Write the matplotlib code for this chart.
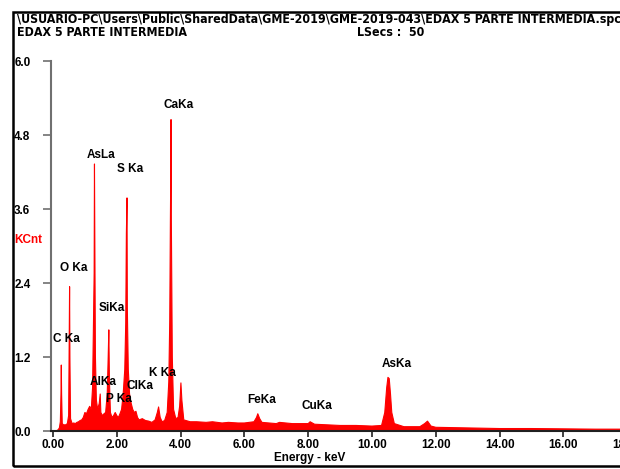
import matplotlib
matplotlib.use("Agg")
import matplotlib.pyplot as plt
from matplotlib.patches import Rectangle
from matplotlib import font_manager

# --- Data --------------------------------------------------------------------

energy = [0.10, 0.16, 0.20, 0.23, 0.25, 0.26, 0.27, 0.29, 0.33, 0.40, 0.45, 0.49,
          0.50, 0.52, 0.53, 0.55, 0.60, 0.65, 0.70, 0.75, 0.80, 0.85, 0.90, 0.95,
          1.00, 1.05, 1.10, 1.15, 1.20, 1.24, 1.27, 1.29, 1.30, 1.31, 1.33, 1.36,
          1.40, 1.45, 1.48, 1.50, 1.55, 1.60, 1.65, 1.70, 1.73, 1.75, 1.77, 1.80,
          1.85, 1.90, 1.95, 2.00, 2.05, 2.10, 2.15, 2.20, 2.25, 2.28, 2.30, 2.32,
          2.33, 2.36, 2.40, 2.45, 2.50, 2.55, 2.60, 2.65, 2.70, 2.80, 2.90, 3.00,
          3.10, 3.20, 3.27, 3.31, 3.36, 3.42, 3.50, 3.58, 3.63, 3.66, 3.68, 3.69,
          3.70, 3.71, 3.74, 3.78, 3.85, 3.92, 3.97, 4.01, 4.04, 4.10, 4.30, 4.50,
          4.80, 5.00, 5.30, 5.50, 5.80, 6.00, 6.30, 6.38, 6.42, 6.48, 6.55, 7.00,
          7.10, 7.50, 8.00, 8.06, 8.20, 8.60, 9.00, 9.50, 10.00, 10.30, 10.40, 10.46,
          10.50, 10.54, 10.58, 10.62, 10.70, 11.00, 11.50, 11.65, 11.74, 11.85, 12.00, 13.00,
          14.00, 15.00, 16.00, 17.00, 18.00, 19.00, 20.00]
counts = [0.00, 0.02, 0.05, 0.15, 0.60, 1.07, 0.60, 0.12, 0.10, 0.10, 0.12, 0.25,
          0.90, 2.34, 1.20, 0.20, 0.12, 0.13, 0.12, 0.14, 0.15, 0.17, 0.18, 0.22,
          0.30, 0.28, 0.35, 0.40, 0.35, 0.70, 1.80, 2.56, 4.33, 3.23, 1.20, 0.50,
          0.35, 0.45, 0.60, 0.30, 0.25, 0.28, 0.30, 0.60, 1.20, 1.64, 0.80, 0.30,
          0.22, 0.25, 0.30, 0.25, 0.22, 0.28, 0.35, 0.60, 1.00, 1.75, 3.20, 3.78,
          2.00, 1.00, 0.60, 0.45, 0.35, 0.30, 0.32, 0.22, 0.18, 0.20, 0.17, 0.16,
          0.14, 0.18, 0.30, 0.39, 0.22, 0.15, 0.17, 0.30, 0.80, 1.80, 3.42, 4.08,
          5.05, 3.40, 1.20, 0.35, 0.20, 0.22, 0.40, 0.78, 0.50, 0.18, 0.15, 0.15,
          0.14, 0.15, 0.13, 0.14, 0.13, 0.13, 0.15, 0.22, 0.28, 0.20, 0.14, 0.12,
          0.14, 0.12, 0.12, 0.15, 0.11, 0.10, 0.09, 0.09, 0.08, 0.09, 0.30, 0.70,
          0.87, 0.85, 0.60, 0.30, 0.12, 0.07, 0.07, 0.12, 0.16, 0.08, 0.06, 0.05,
          0.04, 0.04, 0.035, 0.03, 0.03, 0.03, 0.03]

peak_names = ["CaKa", "AsLa", "S Ka", "O Ka", "SiKa", "C Ka", "AlKa", "ClKa",
              "P Ka", "K Ka", "FeKa", "CuKa", "AsKa"]
peak_x = [3.95, 1.50, 2.43, 0.64, 1.85, 0.42, 1.57, 2.73, 2.07, 3.42, 6.55, 8.28, 10.78]
peak_y = [5.29, 4.47, 4.25, 2.64, 1.99, 1.49, 0.80, 0.73, 0.52, 0.94, 0.50, 0.41, 1.09]

yticks = [0.0, 1.2, 2.4, 3.6, 4.8, 6.0]
xticks = [0, 2, 4, 6, 8, 10, 12, 14, 16, 18, 20]

title1 = r"\USUARIO-PC\Users\Public\SharedData\GME-2019\GME-2019-043\EDAX 5 PARTE INTERMEDIA.spc"
title2 = "EDAX 5 PARTE INTERMEDIA"
lsecs = "LSecs :  50"

# --- Fonts --------------------------------------------------------------------

# the header uses a narrow bold face; take one if the system has it
narrow = None
for f in font_manager.fontManager.ttflist:
    if ("Narrow" in f.name or "Condensed" in f.name
            or str(f.stretch) in ("condensed", "semi-condensed", "extra-condensed")):
        narrow = f
        break

plt.rcParams["font.family"] = ["Liberation Sans", "DejaVu Sans"]
plt.rcParams["font.weight"] = "bold"

if narrow is not None:
    head_font = dict(family=narrow.name, stretch=narrow.stretch, fontsize=10)
else:
    head_font = dict(family="Liberation Sans", fontsize=9.0)

# --- Figure -------------------------------------------------------------------

W, H = 620, 469
fig = plt.figure(figsize=(W / 100, H / 100), dpi=100)

x0_px, x_scale = 53, 31.9
ax_left = 51
ax_right = x0_px + 20 * x_scale
ax = fig.add_axes([ax_left / W, (H - 431) / H, (ax_right - ax_left) / W, (431 - 61) / H])

ax.fill_between(energy, counts, 0, color="#ff0000", lw=0.8, edgecolor="#ff0000")

ax.set_xlim(-(x0_px - ax_left) / x_scale, 20)
ax.set_ylim(0, 6.0)

for s in ["top", "right"]:
    ax.spines[s].set_visible(False)
ax.spines["left"].set_color("#707070")
ax.spines["left"].set_linewidth(1.5)
ax.spines["bottom"].set_color("#202020")
ax.spines["bottom"].set_linewidth(1.5)

ax.set_yticks(yticks)
ax.set_yticklabels([f"{v:.1f}" for v in yticks], ha="left", fontsize=8.5, fontweight="bold")
ax.tick_params(axis="y", length=6, width=1.2, color="#707070", pad=20.5)
ax.set_xticks(xticks)
ax.set_xticklabels([f"{v:.2f}" for v in xticks], fontsize=8.5, fontweight="bold")
ax.tick_params(axis="x", length=4, width=1.2, color="#202020", pad=2)

for name, px, py in zip(peak_names, peak_x, peak_y):
    ax.text(px, py, name, ha="center", va="center", fontsize=8.5, fontweight="bold")

fig.text(14 / W, 1 - 240 / H, "KCnt", color="#ff0000", fontsize=8.5,
         fontweight="bold", va="center", ha="left")
fig.text(310 / W, 1 - 458 / H, "Energy - keV", fontsize=8.5, fontweight="bold",
         ha="center", va="center")

t1 = fig.text(17 / W, 1 - 20 / H, title1, fontweight="bold", va="center", ha="left", **head_font)
fig.text(17 / W, 1 - 32 / H, title2, fontweight="bold", va="center", ha="left", **head_font)
fig.text(357 / W, 1 - 32 / H, lsecs, fontweight="bold", va="center", ha="left", **head_font)

# shrink the header if it runs past the figure edge
fig.canvas.draw()
bb = t1.get_window_extent()
if bb.x1 > 617:
    scale = (617 - bb.x0) / (bb.x1 - bb.x0)
    for t in fig.texts[-3:]:
        t.set_fontsize(t.get_fontsize() * scale)

fig.add_artist(Rectangle((13 / W, (H - 466) / H), 1.2, (466 - 12) / H,
                         transform=fig.transFigure, fill=False, lw=1.8, color="black"))

fig.savefig("out.png", dpi=100)
